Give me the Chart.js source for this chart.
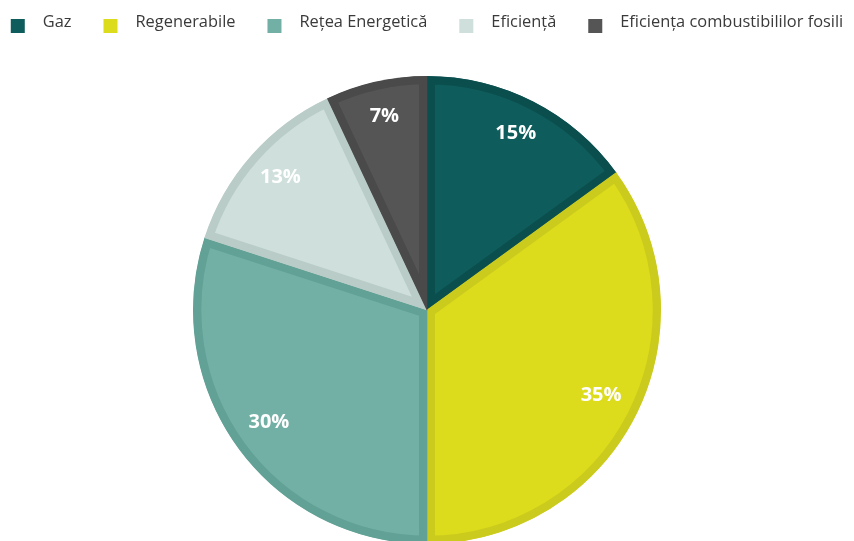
<!DOCTYPE html>
<html>
<head>
<meta charset="utf-8">
<script src="https://cdn.jsdelivr.net/npm/chart.js@4"></script>
<style>
  html, body { margin: 0; padding: 0; background: #ffffff; }
  #wrap { width: 854px; height: 541px; position: relative; }
</style>
</head>
<body>
<div id="wrap"><canvas id="c"></canvas></div>
<script>
const categories = ['Gaz', 'Regenerabile', 'Rețea Energetică', 'Eficiență', 'Eficiența combustibililor fosili'];
const shares = [15, 35, 30, 13, 7];
const fillColors = ['#0f5c5c', '#dcdc1c', '#72b0a5', '#cfdfdb', '#555555'];
const edgeColors = ['#0b4e4e', '#cbcb1e', '#62a195', '#b9ccc7', '#4a4a4a'];

const pieLabels = {
  id: 'pieLabels',
  afterDatasetsDraw(chart) {
    const ctx = chart.ctx;
    const meta = chart.getDatasetMeta(0);
    const data = chart.data.datasets[0].data;
    ctx.save();
    ctx.font = 'bold 20px "Open Sans"';
    ctx.fillStyle = '#ffffff';
    ctx.textAlign = 'center';
    ctx.textBaseline = 'middle';
    meta.data.forEach((arc, i) => {
      const p = arc.getProps(['x', 'y', 'startAngle', 'endAngle', 'outerRadius']);
      const mid = (p.startAngle + p.endAngle) / 2;
      const r = p.outerRadius * 0.835;
      ctx.fillText(data[i] + '%', p.x + Math.cos(mid) * r, p.y + Math.sin(mid) * r - 3);
    });
    ctx.restore();
  }
};

const topLegend = {
  id: 'topLegend',
  afterDraw(chart) {
    const ctx = chart.ctx;
    ctx.save();
    ctx.font = '16.4px "Open Sans"';
    const box = 14, gapText = 18, gapItem = 32;
    const widths = categories.map(t => ctx.measureText(t).width);
    let total = 0;
    widths.forEach((w, i) => { total += box + gapText + w + (i < widths.length - 1 ? gapItem : 0); });
    let x = (chart.width - total) / 2;
    const yMid = 26;
    ctx.textBaseline = 'middle';
    ctx.textAlign = 'left';
    categories.forEach((t, i) => {
      ctx.fillStyle = fillColors[i];
      ctx.fillRect(x, yMid - box / 2, box, box);
      ctx.fillStyle = '#3a3a3a';
      ctx.fillText(t, x + box + gapText, yMid - 4);
      x += box + gapText + widths[i] + gapItem;
    });
    ctx.restore();
  }
};

new Chart(document.getElementById('c'), {
  type: 'pie',
  data: {
    labels: categories,
    datasets: [{
      data: shares,
      backgroundColor: fillColors,
      borderColor: edgeColors,
      borderWidth: 8,
      borderAlign: 'inner',
      radius: 234
    }]
  },
  options: {
    responsive: true,
    maintainAspectRatio: false,
    animation: false,
    layout: { padding: { top: 79, bottom: 0, left: 0, right: 0 } },
    plugins: {
      legend: { display: false },
      tooltip: { enabled: false }
    }
  },
  plugins: [pieLabels, topLegend]
});
</script>
</body>
</html>
